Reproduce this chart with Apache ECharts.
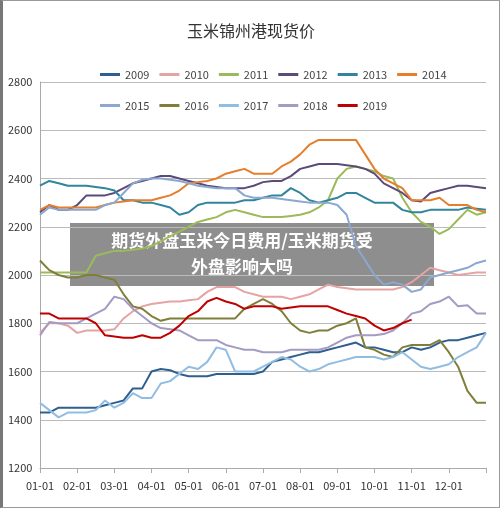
<!DOCTYPE html>
<html><head><meta charset="utf-8">
<script src="https://cdn.jsdelivr.net/npm/echarts@6/dist/echarts.min.js"></script>
<style>html,body{margin:0;padding:0;background:#fff}#c{width:500px;height:508px;box-sizing:border-box;border:1px solid #999;border-left:3px solid #777}</style>
</head><body><div id="c"></div>
<script>
const monthLabels=['01-01','02-01','03-01','04-01','05-01','06-01','07-01','08-01','09-01','10-01','11-01','12-01'];
const categories=[];for(let i=0;i<49;i++){categories.push(i%4===0&&i<48?monthLabels[i/4]:'w'+i);}
const years=['2009','2010','2011','2012','2013','2014','2015','2016','2017','2018','2019'];
const colors=['#2f5f8f','#e6a3a3','#9bbb59','#5b4a7a','#31859c','#e57f2e','#8aa8d0','#7f7f3a','#92bde3','#a49ac2','#c00000'];
const v2009=[1430,1430,1450,1450,1450,1450,1450,1460,1470,1480,1530,1530,1600,1610,1605,1590,1580,1580,1580,1590,1590,1590,1590,1590,1600,1640,1650,1660,1670,1680,1680,1690,1700,1710,1720,1700,1700,1690,1680,1680,1700,1690,1700,1720,1730,1730,1740,1750,1760];
const v2010=[1760,1800,1800,1790,1760,1770,1770,1770,1775,1820,1850,1870,1880,1885,1890,1890,1895,1900,1930,1950,1950,1950,1930,1920,1910,1910,1910,1900,1910,1920,1940,1960,1950,1945,1940,1940,1940,1940,1940,1950,1970,2000,2030,2020,2010,2000,2005,2010,2010];
const v2011=[2010,2010,2010,2010,2010,2010,2080,2090,2100,2100,2105,2110,2120,2140,2160,2180,2200,2220,2230,2240,2260,2270,2260,2250,2240,2240,2240,2245,2250,2260,2280,2310,2400,2440,2450,2440,2430,2410,2400,2320,2260,2220,2200,2170,2190,2230,2270,2250,2260];
const v2012=[2260,2290,2270,2270,2290,2330,2330,2330,2340,2360,2380,2390,2400,2410,2410,2400,2390,2380,2370,2365,2360,2360,2360,2370,2385,2390,2390,2410,2440,2450,2460,2460,2460,2455,2450,2440,2420,2380,2360,2340,2310,2305,2340,2350,2360,2370,2370,2365,2360];
const v2013=[2370,2390,2380,2370,2370,2370,2365,2360,2350,2310,2310,2300,2300,2290,2280,2250,2260,2290,2300,2300,2300,2300,2310,2310,2320,2330,2330,2360,2340,2310,2300,2310,2320,2340,2340,2320,2300,2300,2300,2270,2260,2260,2270,2270,2270,2270,2280,2275,2270];
const v2014=[2270,2290,2280,2280,2280,2280,2280,2290,2300,2305,2310,2310,2310,2320,2330,2350,2380,2385,2390,2400,2420,2430,2440,2420,2420,2420,2450,2470,2500,2540,2560,2560,2560,2560,2560,2500,2440,2400,2380,2360,2310,2310,2310,2320,2290,2290,2290,2270,2260];
const v2015=[2250,2280,2270,2270,2270,2270,2270,2290,2300,2340,2380,2395,2400,2400,2395,2390,2380,2370,2365,2360,2360,2360,2330,2320,2320,2320,2315,2310,2305,2300,2300,2300,2290,2250,2120,2060,2000,1960,1970,1960,1930,1940,1990,2000,2010,2020,2030,2050,2060];
const v2016=[2060,2020,2000,1990,1990,2000,2000,1990,1980,1920,1870,1860,1830,1810,1820,1820,1820,1820,1820,1820,1820,1820,1860,1880,1900,1880,1850,1800,1770,1760,1770,1770,1790,1800,1820,1700,1690,1670,1660,1700,1710,1710,1710,1730,1680,1620,1520,1470,1470];
const v2017=[1470,1440,1410,1430,1430,1430,1440,1480,1450,1470,1510,1490,1490,1550,1560,1590,1620,1610,1640,1700,1690,1600,1600,1600,1620,1640,1660,1650,1620,1600,1610,1630,1640,1650,1660,1660,1660,1650,1660,1680,1650,1620,1610,1620,1630,1660,1680,1700,1760];
const v2018=[1750,1805,1800,1800,1800,1820,1840,1860,1910,1900,1860,1830,1800,1780,1775,1770,1750,1730,1730,1730,1710,1700,1690,1690,1680,1680,1680,1690,1690,1690,1690,1700,1720,1740,1750,1750,1750,1755,1770,1800,1840,1850,1880,1890,1910,1870,1875,1840,1840];
const v2019=[1840,1840,1820,1820,1820,1820,1800,1750,1745,1740,1740,1750,1740,1740,1760,1790,1830,1850,1890,1905,1890,1880,1860,1870,1870,1870,1860,1865,1870,1870,1870,1870,1855,1840,1830,1820,1790,1770,1780,1800,1815];
const values=[v2009,v2010,v2011,v2012,v2013,v2014,v2015,v2016,v2017,v2018,v2019];
const yTicks=[1200,1400,1600,1800,2000,2200,2400,2600,2800];
const titleText='玉米锦州港现货价';
const bannerLines=['期货外盘玉米今日费用/玉米期货受','外盘影响大吗'];
const font='"Noto Sans CJK SC","Liberation Sans",sans-serif';
const chart=echarts.init(document.getElementById('c'));
const legendCommon={icon:'rect',itemWidth:20,itemHeight:3,itemGap:10,textStyle:{fontSize:11,color:'#444',fontFamily:font}};
chart.setOption({
 animation:false,
 color:colors,
 title:{text:titleText,left:'center',top:17,textStyle:{fontSize:16,fontWeight:'normal',color:'#333',fontFamily:font}},
 legend:[Object.assign({data:years.slice(0,6),left:92,top:63},legendCommon),Object.assign({data:years.slice(6),left:92,top:94},legendCommon)],
 grid:{left:37,right:13,top:81,bottom:39},
 xAxis:{type:'category',data:categories,boundaryGap:false,
  axisLine:{lineStyle:{color:'#aaa'}},axisTick:{show:true,interval:(i)=>i%4===0,lineStyle:{color:'#aaa'}},
  axisLabel:{interval:(i)=>i%4===0&&i<48,color:'#333',fontSize:11,fontFamily:font,margin:12}},
 yAxis:{type:'value',min:yTicks[0],max:yTicks[yTicks.length-1],interval:200,
  axisLine:{show:true,lineStyle:{color:'#aaa'}},
  splitLine:{lineStyle:{color:'#bbb'}},
  axisLabel:{formatter:(v)=>String(v),color:'#333',fontSize:11,fontFamily:font,align:'left',margin:32}},
 series:years.map((y,k)=>({name:y,type:'line',data:values[k],showSymbol:false,symbol:'none',lineStyle:{width:2}})),
 graphic:[{type:'group',z:100,children:[
  {type:'rect',shape:{x:67,y:222,width:364,height:63},style:{fill:'rgba(110,110,110,0.78)'}},
  {type:'text',style:{text:bannerLines[0],x:239,y:240,align:'center',verticalAlign:'middle',fill:'#fff',font:'bold 17px '+font}},
  {type:'text',style:{text:bannerLines[1],x:239,y:266,align:'center',verticalAlign:'middle',fill:'#fff',font:'bold 17px '+font}}
 ]}]
});
</script></body></html>
